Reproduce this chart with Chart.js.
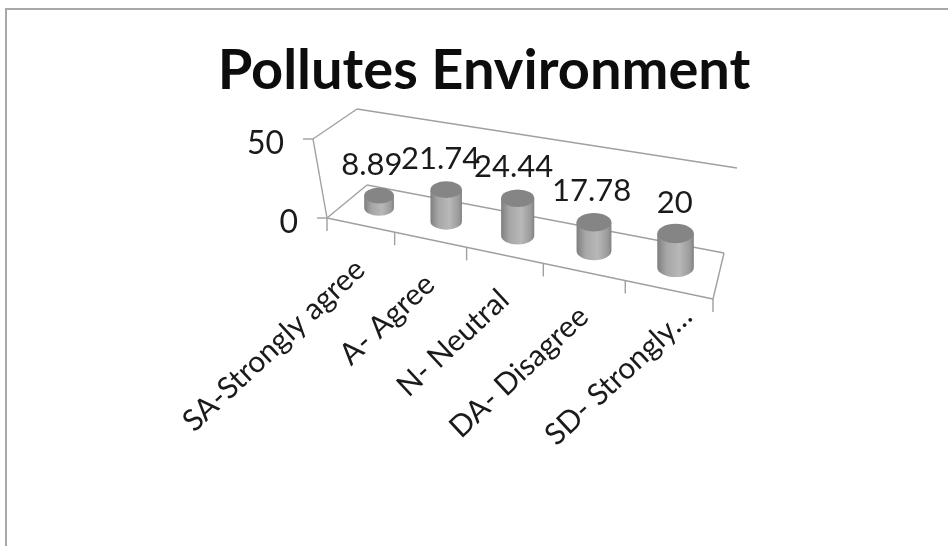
<!DOCTYPE html>
<html>
<head>
<meta charset="utf-8">
<title>Pollutes Environment</title>
<script src="https://cdn.jsdelivr.net/npm/chart.js@4"></script>
<style>
  html, body { margin: 0; padding: 0; width: 948px; height: 546px; overflow: hidden; background: #fff; }
  #frame { position: absolute; left: 5px; top: 8px; width: 943px; height: 538px; overflow: hidden;
           border-top: 2px solid #a8a8a8; border-left: 2px solid #a8a8a8; box-sizing: border-box; }
  #myChart { display: block; }
</style>
</head>
<body>
<div id="frame"><canvas id="myChart" width="954" height="536"></canvas></div>
<script>
'use strict';

const chartTitle = 'Pollutes Environment';
const categories = ['SA-Strongly agree', 'A- Agree', 'N- Neutral', 'DA- Disagree', 'SD- Strongly…'];
const values = [8.89, 21.74, 24.44, 17.78, 20];
const valueLabels = ['8.89', '21.74', '24.44', '17.78', '20'];
const yTicks = [0, 50];

const fontName = 'Lato, "Open Sans", sans-serif';
const lineColor = '#a0a0a0';
const textColor = '#1a1a1a';

// corners of the slanted floor, in canvas pixels (canvas sits at 7,10)
const frontLeft = { x: 320, y: 208 };
const frontRight = { x: 706, y: 289 };
const backLeft = { x: 360, y: 175 };
const backRight = { x: 717, y: 243 };
const wallFront = { x: 306, y: 129 };
const wallBack = { x: 350, y: 99 };
const wallRight = { x: 730, y: 158 };

function lerp(a, b, t) {
  return { x: a.x + (b.x - a.x) * t, y: a.y + (b.y - a.y) * t };
}

// perspective squeeze along the category axis
function squeeze(t) {
  const k = 0.85;
  return k * t / (1 + (k - 1) * t);
}

function floorPoint(t, depth) {
  const s = squeeze(t);
  return lerp(lerp(frontLeft, frontRight, s), lerp(backLeft, backRight, s), depth);
}

function strokeLine(ctx, a, b) {
  ctx.beginPath();
  ctx.moveTo(a.x, a.y);
  ctx.lineTo(b.x, b.y);
  ctx.stroke();
}

function drawCylinder(ctx, cx, bottomY, topY, rx) {
  const ry = rx * 0.53;
  const side = ctx.createLinearGradient(cx - rx, 0, cx + rx, 0);
  side.addColorStop(0, '#7f7f7f');
  side.addColorStop(0.25, '#a6a6a6');
  side.addColorStop(0.6, '#b8b8b8');
  side.addColorStop(0.9, '#9a9a9a');
  side.addColorStop(1, '#808080');

  ctx.save();
  ctx.filter = 'blur(0.7px)';
  ctx.fillStyle = side;
  ctx.beginPath();
  ctx.moveTo(cx - rx, topY);
  ctx.lineTo(cx - rx, bottomY);
  ctx.ellipse(cx, bottomY, rx, ry, 0, Math.PI, 0, true);
  ctx.lineTo(cx + rx, topY);
  ctx.closePath();
  ctx.fill();

  ctx.fillStyle = '#858585';
  ctx.beginPath();
  ctx.ellipse(cx, topY, rx, ry, 0, 0, Math.PI * 2);
  ctx.fill();
  ctx.restore();
}

const floorPlugin = {
  id: 'floorPlugin',
  afterDatasetsDraw(chart) {
    const ctx = chart.ctx;
    const area = chart.chartArea;
    const xScale = chart.scales.x;
    const yScale = chart.scales.y;
    const fraction = px => (px - area.left) / (area.right - area.left);
    const grow = t => 0.85 + 0.25 * t;

    ctx.save();
    ctx.strokeStyle = lineColor;
    ctx.lineWidth = 1.4;

    // floor and walls
    strokeLine(ctx, frontLeft, frontRight);
    strokeLine(ctx, frontRight, backRight);
    strokeLine(ctx, backRight, backLeft);
    strokeLine(ctx, backLeft, frontLeft);
    strokeLine(ctx, frontLeft, wallFront);
    strokeLine(ctx, wallFront, wallBack);
    strokeLine(ctx, wallBack, wallRight);

    // category ticks sit between the bars
    const step = xScale.getPixelForValue(1) - xScale.getPixelForValue(0);
    for (let i = 0; i <= categories.length; i++) {
      const t = fraction(xScale.getPixelForValue(i) - step / 2);
      const p = floorPoint(t, 0);
      strokeLine(ctx, p, { x: p.x, y: p.y + 13 });
    }

    // value axis
    ctx.fillStyle = textColor;
    ctx.font = '32px ' + fontName;
    ctx.textAlign = 'right';
    ctx.textBaseline = 'middle';
    for (const v of yTicks) {
      const h = (yScale.bottom - yScale.getPixelForValue(v)) / (yScale.bottom - yScale.top);
      const p = lerp(frontLeft, wallFront, h);
      strokeLine(ctx, p, { x: p.x - 10, y: p.y });
      ctx.fillText(String(v), p.x - 29, p.y + 5);
    }

    // cylinders
    const bars = chart.getDatasetMeta(0).data;
    bars.forEach((bar, i) => {
      const t = fraction(bar.x);
      const p = floorPoint(t, 0.5);
      const f = grow(t);
      const topY = p.y - (yScale.bottom - yScale.getPixelForValue(values[i])) * f;
      drawCylinder(ctx, p.x, p.y, topY, 17 * f);
    });

    // value labels
    ctx.font = '31px ' + fontName;
    ctx.textAlign = 'center';
    bars.forEach((bar, i) => {
      const t = fraction(bar.x);
      const p = floorPoint(t, 0.5);
      const topY = p.y - (yScale.bottom - yScale.getPixelForValue(values[i])) * grow(t);
      ctx.fillText(valueLabels[i], p.x - 8 + 8 * t, topY - 31);
    });

    // category labels, turned along the slant
    categories.forEach((name, i) => {
      const t = fraction(xScale.getPixelForValue(i));
      const p = floorPoint(t, 0);
      // the shortened last label sits further up its slant
      const nudge = name.endsWith('…') ? { x: 19, y: -18 } : { x: 0, y: 0 };
      ctx.save();
      ctx.translate(p.x + nudge.x, p.y + 40 + nudge.y);
      ctx.rotate(-43 * Math.PI / 180);
      ctx.textAlign = 'right';
      ctx.font = '30px ' + fontName;
      ctx.fillText(name, 0, 0);
      ctx.restore();
    });
    ctx.restore();
  }
};

const chartCanvas = document.getElementById('myChart');
new Chart(chartCanvas, {
  type: 'bar',
  data: {
    labels: categories,
    datasets: [{ data: values, backgroundColor: 'rgba(0,0,0,0)', borderWidth: 0 }]
  },
  options: {
    responsive: false,
    animation: false,
    layout: { padding: { left: 0, right: 0, top: 0, bottom: 328 } },
    scales: {
      x: { type: 'category', display: false },
      y: { display: false, min: 0, max: 50 }
    },
    plugins: {
      legend: { display: false },
      tooltip: { enabled: false },
      title: {
        display: true,
        text: chartTitle,
        color: '#0d0d0d',
        font: { family: fontName, size: 56, weight: 'bold', lineHeight: 1.2 },
        padding: { top: 27, bottom: 35 }
      }
    }
  },
  plugins: [floorPlugin]
});
</script>
</body>
</html>
